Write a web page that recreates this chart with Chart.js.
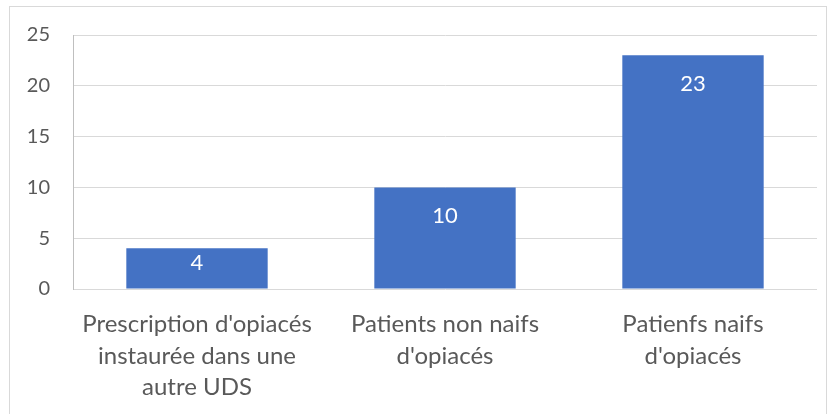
<!DOCTYPE html>
<html><head><meta charset="utf-8">
<script src="https://cdn.jsdelivr.net/npm/chart.js@4/dist/chart.umd.min.js"></script>
<style>
html,body{margin:0;padding:0;background:#fff;}
#wrap{position:relative;width:834px;height:414px;}
#frame{position:absolute;left:9px;top:6px;width:818px;height:420px;border:1px solid #d9d9d9;box-sizing:border-box;}
canvas{position:absolute;left:0;top:0;}
</style></head>
<body>
<div id="wrap"><div id="frame"></div><canvas id="c" width="834" height="414"></canvas></div>
<script>
const categories = [["Prescription d'opiacés","instaurée dans une","autre UDS"],["Patients non naifs","d'opiacés"],["Patienfs naifs","d'opiacés"]];
const values = [4, 10, 23];
const yTicks = [0, 5, 10, 15, 20, 25];

const FONT = "Lato, 'Open Sans', sans-serif";

const labelPlugin = {
  id: 'barLabels',
  afterDatasetsDraw(chart) {
    const ctx = chart.ctx;
    const meta = chart.getDatasetMeta(0);
    ctx.save();
    ctx.fillStyle = '#ffffff';
    ctx.font = '22px ' + FONT;
    ctx.textAlign = 'center';
    ctx.textBaseline = 'middle';
    meta.data.forEach((bar, i) => {
      const h = bar.base - bar.y;
      const off = Math.min(29, h * 0.35);
      ctx.fillText(String(values[i]), bar.x, bar.y + off);
    });
    ctx.restore();
  }
};

new Chart(document.getElementById('c'), {
  type: 'bar',
  data: {
    labels: categories,
    datasets: [{ data: values, backgroundColor: '#4472C4', borderWidth: 0, categoryPercentage: 1, barPercentage: 0.57 }]
  },
  options: {
    responsive: false,
    animation: false,
    layout: { padding: { left: 0, right: 17, top: 34, bottom: 0 } },
    plugins: { legend: { display: false }, tooltip: { enabled: false } },
    scales: {
      x: {
        grid: { display: false, drawTicks: false },
        border: { display: false },
        ticks: { color: '#595959', font: { family: FONT, size: 24, lineHeight: 1.31 }, padding: 20, maxRotation: 0, autoSkip: false },
        afterFit(s) { s.height = 125; }
      },
      y: {
        min: 0, max: 25,
        afterBuildTicks(s) { s.ticks = yTicks.map(v => ({ value: v })); },
        grid: { color: '#d9d9d9', lineWidth: 1, drawTicks: false },
        border: { display: true, color: '#bfbfbf', width: 1 },
        ticks: { color: '#595959', font: { family: FONT, size: 20 }, padding: 23 },
        afterFit(s) { s.width = 73; }
      }
    }
  },
  plugins: [labelPlugin]
});
</script>
</body></html>
